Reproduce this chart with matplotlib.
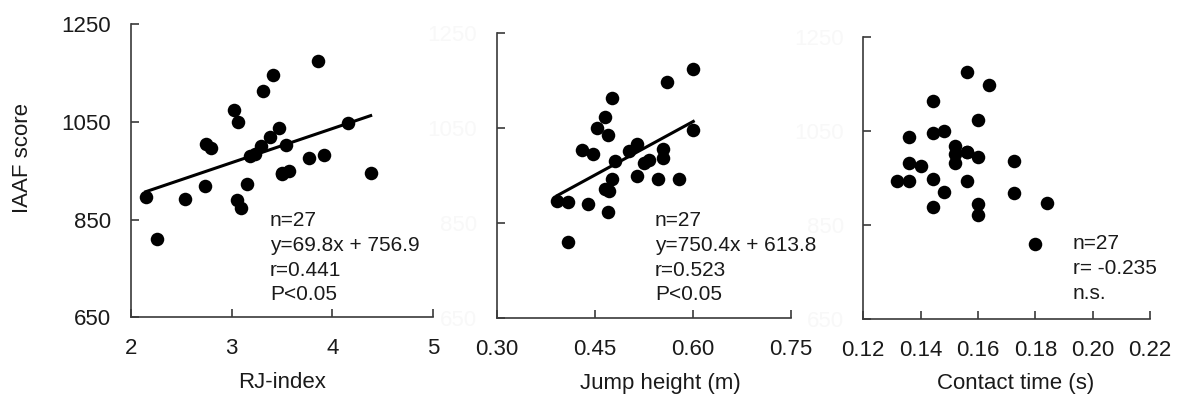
import matplotlib
matplotlib.use("Agg")
import matplotlib.pyplot as plt
import numpy as np

plt.rcParams['font.family'] = ['Liberation Sans', 'DejaVu Sans']

# Panel 1: RJ-index vs IAAF score
rj_index = [2.149, 2.258, 2.538, 2.736, 2.746, 2.796, 3.027, 3.060, 3.057, 3.093,
            3.150, 3.180, 3.230, 3.296, 3.310, 3.410, 3.380, 3.473, 3.539, 3.496,
            3.500, 3.572, 3.770, 3.919, 3.853, 4.157, 4.379]
iaaf_rj = [895.5, 810.8, 892.6, 919.0, 1004.5, 995.7, 1074.0, 1049.0, 889.0, 873.0,
           922.0, 980.6, 985.0, 1001.0, 1113.6, 1145.7, 1019.4, 1036.6, 1002.5, 944.5,
           943.0, 949.0, 975.0, 982.0, 1174.0, 1047.0, 944.5]

# Panel 2: Jump height vs IAAF score
jump_height = [0.3927, 0.4086, 0.4086, 0.4400, 0.4304, 0.4477, 0.4539, 0.4650, 0.4707,
               0.4763, 0.4650, 0.4717, 0.4707, 0.4763, 0.4814, 0.5018, 0.5145, 0.5140,
               0.5257, 0.5333, 0.5471, 0.5548, 0.5548, 0.5600, 0.5792, 0.6006, 0.6006]
iaaf_jh = [896.3, 894.8, 810.0, 890.0, 1004.3, 996.0, 1050.0, 1073.0, 1036.5,
           1113.0, 921.6, 918.0, 873.8, 944.0, 981.0, 1003.0, 1018.0, 949.6,
           976.0, 983.0, 943.0, 1006.0, 987.0, 1147.0, 943.0, 1174.8, 1046.4]

# Panel 3: Contact time vs IAAF score
contact_time = [0.1319, 0.1360, 0.1360, 0.1360, 0.1400, 0.1442, 0.1442, 0.1442, 0.1442,
                0.1481, 0.1481, 0.1520, 0.1520, 0.1520, 0.1563, 0.1563, 0.1563, 0.1563,
                0.1601, 0.1601, 0.1601, 0.1601, 0.1640, 0.1726, 0.1726, 0.1840, 0.1799]
iaaf_ct = [943.6, 943.6, 981.0, 1036.0, 976.0, 948.0, 887.8, 1045.0, 1113.5,
           919.6, 1049.8, 1018.6, 1001.0, 981.0, 1004.6, 1006.0, 943.6, 1174.4,
           994.0, 1073.0, 894.8, 871.4, 1147.5, 986.0, 917.5, 896.3, 809.9]

# Regression coefficients
fit_rj = (69.8, 756.9)
fit_jh = (750.4, 613.8)

y_ticks = [650, 850, 1050, 1250]
x_ticks_rj = [2, 3, 4, 5]
x_ticks_jh = [0.30, 0.45, 0.60, 0.75]
x_ticks_ct = [0.12, 0.14, 0.16, 0.18, 0.20, 0.22]

stats_rj = ["n=27", "y=69.8x + 756.9", "r=0.441", "P<0.05"]
stats_jh = ["n=27", "y=750.4x + 613.8", "r=0.523", "P<0.05"]
stats_ct = ["n=27", "r= -0.235", "n.s."]

W, H = 1179, 396
fig = plt.figure(figsize=(W / 100, H / 100), dpi=100)

TXT = '#1a1a1a'
SP = '#3a3a3a'
FAINT = '#f8f8f8'
FS = 16


def make_ax(px_left, px_right, px_top, px_bottom):
    return fig.add_axes([px_left / W, 1 - px_bottom / H,
                         (px_right - px_left) / W, (px_bottom - px_top) / H])


def style(ax, xt, xfmt, ylab_color):
    for s in ['top', 'right']:
        ax.spines[s].set_visible(False)
    for s in ['left', 'bottom']:
        ax.spines[s].set_color(SP)
        ax.spines[s].set_linewidth(1.2)
    ax.set_ylim(650, 1250)
    ax.set_yticks(y_ticks)
    ax.set_xlim(xt[0], xt[-1])
    ax.set_xticks(xt)
    ax.set_xticklabels([xfmt.format(v) for v in xt])
    ax.tick_params(axis='both', direction='in', length=5.5, width=1.2, color=SP,
                   labelsize=FS, labelcolor=TXT)
    ax.tick_params(axis='y', pad=14, labelcolor=ylab_color)
    ax.tick_params(axis='x', pad=15)


def draw_stats(lines, px_x, px_y0):
    for i, t in enumerate(lines):
        fig.text(px_x / W, 1 - (px_y0 + 25 * i) / H, t, fontsize=15, color=TXT,
                 ha='left', va='center')


# Panel 1
ax1 = make_ax(130.7, 433.3, 24, 317.3)
ax1.scatter(rj_index, iaaf_rj, s=95, color='black', zorder=3, linewidths=0)
xr = np.array([min(rj_index), max(rj_index)])
ax1.plot(xr, fit_rj[0] * xr + fit_rj[1], color='black', lw=2.2, zorder=2)
style(ax1, x_ticks_rj, "{:g}", TXT)
draw_stats(stats_rj, 270, 220)

# Panel 2
ax2 = make_ax(496.7, 791, 33.3, 318.3)
ax2.scatter(jump_height, iaaf_jh, s=95, color='black', zorder=3, linewidths=0)
xj = np.array([min(jump_height), max(jump_height)])
ax2.plot(xj, fit_jh[0] * xj + fit_jh[1], color='black', lw=2.2, zorder=2)
style(ax2, x_ticks_jh, "{:.2f}", FAINT)
draw_stats(stats_jh, 655, 220)

# Panel 3
ax3 = make_ax(863.3, 1150, 36.7, 319.3)
ax3.scatter(contact_time, iaaf_ct, s=95, color='black', zorder=3, linewidths=0)
style(ax3, x_ticks_ct, "{:.2f}", FAINT)
draw_stats(stats_ct, 1073, 243.3)

# Axis labels
fig.text(282 / W, 1 - 383 / H, "RJ-index", fontsize=FS, color=TXT, ha='center', va='center')
fig.text(660 / W, 1 - 383 / H, "Jump height (m)", fontsize=FS, color=TXT, ha='center', va='center')
fig.text(1016 / W, 1 - 383 / H, "Contact time (s)", fontsize=FS, color=TXT, ha='center', va='center')
fig.text(23 / W, 1 - 158.3 / H, "IAAF score", fontsize=FS, color=TXT, ha='center', va='center',
         rotation=90)

fig.savefig("out.png", dpi=100, facecolor='white')
